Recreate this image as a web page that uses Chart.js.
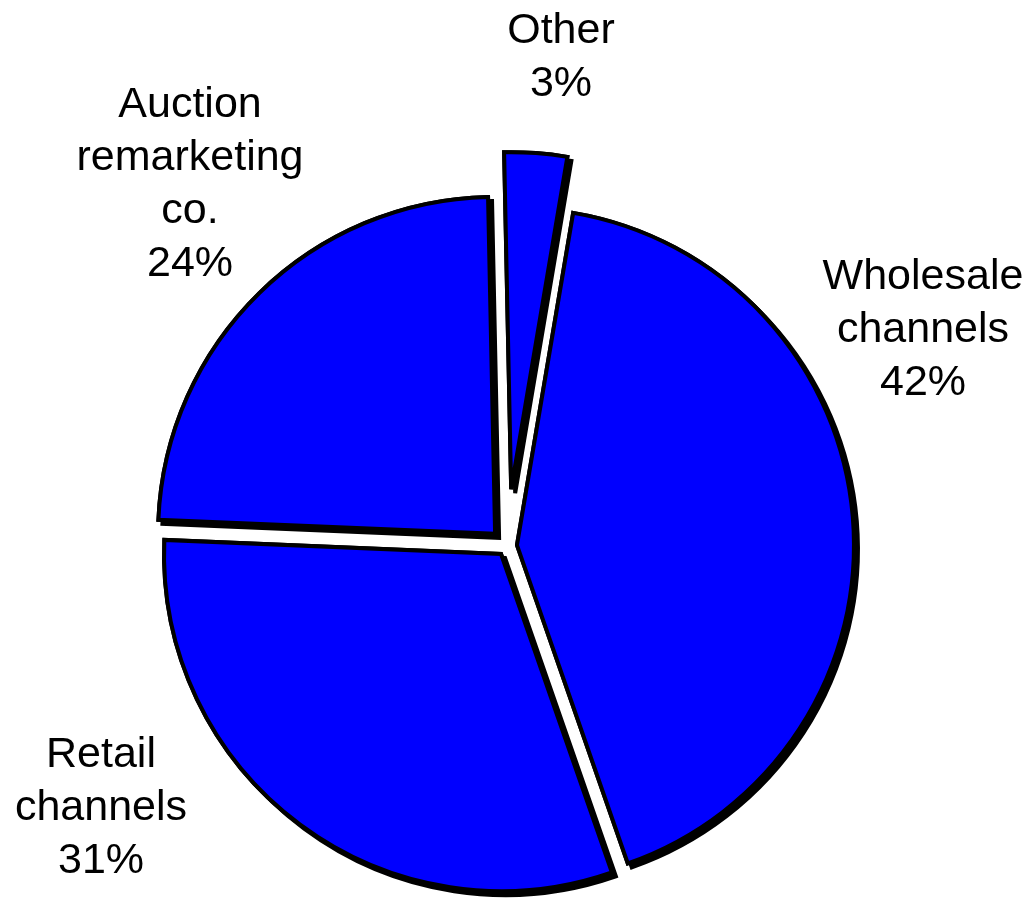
<!DOCTYPE html>
<html>
<head>
<meta charset="utf-8">
<title>Remarketing channels</title>
<script src="https://cdn.jsdelivr.net/npm/chart.js@4.4.0/dist/chart.umd.min.js"></script>
<style>
  html, body { margin: 0; padding: 0; background: #fff; }
</style>
</head>
<body>
<canvas id="myChart" width="1030" height="902"></canvas>
<script>
// slices, clockwise from 12 o'clock
const categories = ['Other', 'Wholesale channels', 'Retail channels', 'Auction remarketing co.'];
const labelLines = [['Other'], ['Wholesale', 'channels'], ['Retail', 'channels'], ['Auction', 'remarketing', 'co.']];
const shares = [3, 42, 31, 24];

// how far each slice is pulled out of the pie (px)
const explode = [57, 10, 10, 17];
// label block: centre x and first baseline, relative to the pie centre
const labelSpots = [[54, -503], [416, -257], [-406, 221], [-317, -429]];

const explodePlugin = {
    id: 'explode',
    afterDatasetsUpdate(chart) {
        chart.getDatasetMeta(0).data.forEach((arc, i) => {
            const mid = (arc.startAngle + arc.endAngle) / 2;
            arc.x += Math.cos(mid) * explode[i];
            arc.y += Math.sin(mid) * explode[i];
        });
    },
    // hard drop shadow: draw the slices once with a shadow,
    // then the normal pass paints over the part that falls inside
    beforeDatasetsDraw(chart) {
        const ctx = chart.ctx;
        ctx.save();
        ctx.shadowColor = '#000';
        ctx.shadowBlur = 0;
        ctx.shadowOffsetX = 4;
        ctx.shadowOffsetY = 4;
        chart.getDatasetMeta(0).controller.draw();
        ctx.restore();
    }
};

const labelPlugin = {
    id: 'sliceLabels',
    afterDraw(chart) {
        const ctx = chart.ctx;
        const area = chart.chartArea;
        const cx = (area.left + area.right) / 2;
        const cy = (area.top + area.bottom) / 2;
        ctx.save();
        ctx.font = '43px "Liberation Sans", Arial, sans-serif';
        ctx.fillStyle = '#000';
        ctx.textAlign = 'center';
        ctx.textBaseline = 'alphabetic';
        labelLines.forEach((lines, i) => {
            const rows = [...lines, shares[i] + '%'];
            const x = cx + labelSpots[i][0];
            let y = cy + labelSpots[i][1];
            rows.forEach(row => {
                ctx.fillText(row, x, y);
                y += 53;
            });
        });
        ctx.restore();
    }
};

const ctx = document.getElementById('myChart').getContext('2d');
const myChart = new Chart(ctx, {
    type: 'pie',
    data: {
        labels: categories,
        datasets: [{
            data: shares,
            backgroundColor: '#0000FF',
            borderColor: '#000',
            borderWidth: 4,
            borderJoinStyle: 'miter',
            clip: false
        }]
    },
    options: {
        responsive: false,
        animation: false,
        radius: 337,
        rotation: -1.2,
        layout: { padding: { top: 190, right: 16, left: 0, bottom: 0 } },
        plugins: {
            legend: { display: false },
            tooltip: { enabled: false }
        }
    },
    plugins: [explodePlugin, labelPlugin]
});
</script>
</body>
</html>
